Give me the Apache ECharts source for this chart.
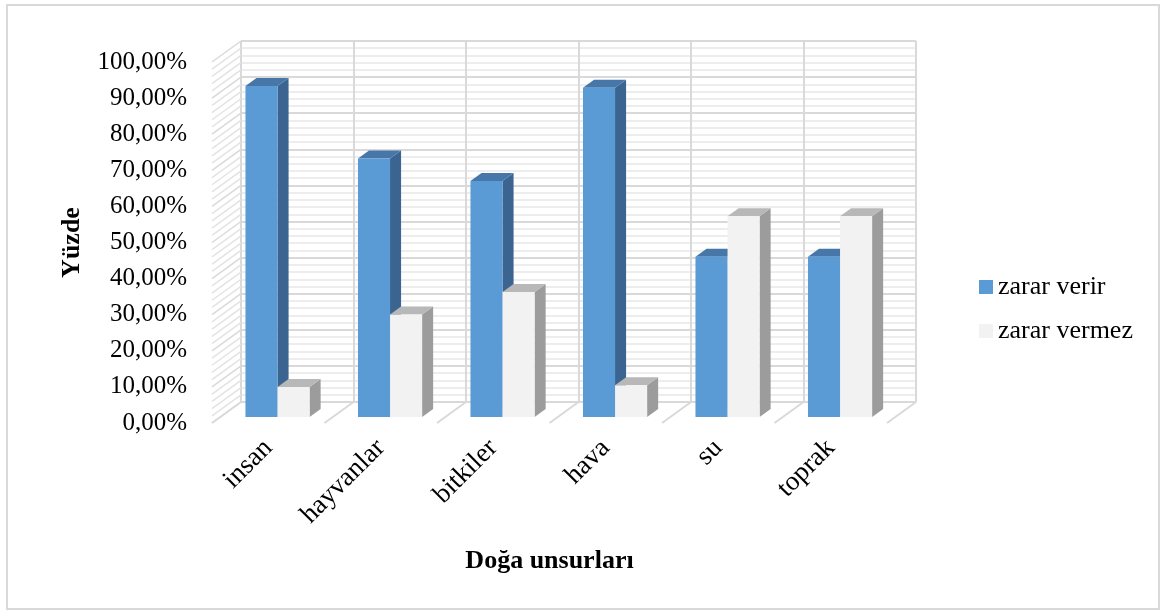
<!DOCTYPE html>
<html><head><meta charset="utf-8">
<script src="https://cdn.jsdelivr.net/npm/echarts@6/dist/echarts.min.js"></script>
<style>html,body{margin:0;padding:0;background:#fff}#c{width:1161px;height:610px}</style>
</head><body><div id="c"></div><script>
// ---- data ----
const categories = ['insan', 'hayvanlar', 'bitkiler', 'hava', 'su', 'toprak'];
const zararVerir = [91.7, 71.6, 65.4, 91.2, 44.4, 44.4];
const zararVermez = [8.3, 28.4, 34.6, 8.8, 55.6, 55.6];
const seriesNames = ['zarar verir', 'zarar vermez'];
const yTickLabels = ['0,00%', '10,00%', '20,00%', '30,00%', '40,00%', '50,00%', '60,00%', '70,00%', '80,00%', '90,00%', '100,00%'];
const yMin = 0, yMax = 100, yInterval = 10;

// ---- 3D style constants ----
const DX = -29, DY = 21;          // back -> front offset of the floor
const F_FRONT = 15 / 21, F_BACK = 7 / 21;
const FONT = 'Liberation Serif';

function barRenderer(colors, leftSide) {
  return function (params, api) {
    const cat = api.value(0), val = api.value(1);
    const band = api.size([1, 0])[0];
    const w = band * 0.285;
    const c0 = api.coord([cat, yMin]);
    const c1 = api.coord([cat, val]);
    const xl = c0[0] + (leftSide ? -w : 0) + DX * F_FRONT + 1;
    const xr = xl + w;
    const yb = c0[1] + DY * F_FRONT, yt = c1[1] + DY * F_FRONT;
    const ddx = DX * (F_BACK - F_FRONT), ddy = DY * (F_BACK - F_FRONT);
    return {
      type: 'group',
      children: [
        { type: 'polygon', shape: { points: [[xr, yt], [xr + ddx, yt + ddy], [xr + ddx, yb + ddy], [xr, yb]] }, style: { fill: colors[2] } },
        { type: 'polygon', shape: { points: [[xl, yt], [xl + ddx, yt + ddy], [xr + ddx, yt + ddy], [xr, yt]] }, style: { fill: colors[1] } },
        { type: 'rect', shape: { x: xl, y: yt, width: w, height: yb - yt }, style: { fill: colors[0] } }
      ]
    };
  };
}

function wallRenderer(params, api) {
  const children = [];
  const band = api.size([1, 0])[0];
  // left wall hatching
  for (let v = yMin; v <= yMax + 0.001; v += yInterval / 5) {
    const p = api.coord([0, v]);
    const x = p[0] - band / 2;
    children.push({ type: 'line', shape: { x1: x, y1: p[1], x2: x + DX, y2: p[1] + DY },
      style: { stroke: (Math.round(v) % yInterval === 0) ? '#d9d9d9' : '#e3e3e3', lineWidth: 1.5 } });
  }
  // floor lines
  for (let k = 0; k <= categories.length; k++) {
    const p = api.coord([k, yMin]);
    const x = p[0] - band / 2;
    children.push({ type: 'line', shape: { x1: x, y1: p[1], x2: x + DX, y2: p[1] + DY },
      style: { stroke: '#d9d9d9', lineWidth: 2 } });
  }
  return { type: 'group', children };
}

const chart = echarts.init(document.getElementById('c'), null, { renderer: 'canvas' });
chart.setOption({
  backgroundColor: '#ffffff',
  animation: false,
  graphic: [{ type: 'rect', shape: { x: 7, y: 5, width: 1152, height: 604 }, style: { fill: 'none', stroke: '#d9d9d9', lineWidth: 2 }, silent: true }],
  legend: {
    orient: 'vertical', left: 974, top: 269, itemWidth: 14, itemHeight: 14, itemGap: 18,
    icon: 'rect', data: seriesNames,
    textStyle: { fontFamily: FONT, fontSize: 26, color: '#000' }
  },
  grid: [
    { left: 241, right: 245, top: 41, bottom: 208, containLabel: false },
    { left: 212, right: 274, top: 62, bottom: 187, containLabel: false }
  ],
  xAxis: [
    { type: 'category', gridIndex: 0, data: categories, axisLine: { show: false }, axisTick: { show: false }, axisLabel: { show: false },
      splitLine: { show: true, lineStyle: { color: '#d9d9d9', width: 2 } } },
    { type: 'category', gridIndex: 1, data: categories, axisLine: { show: false }, axisTick: { show: false },
      axisLabel: { rotate: 45, margin: 21, fontFamily: FONT, fontSize: 27, color: '#000', interval: 0 },
      name: 'Doğa unsurları', nameLocation: 'middle', nameGap: 125,
      nameTextStyle: { fontFamily: FONT, fontSize: 26, fontWeight: 'bold', color: '#000' } }
  ],
  yAxis: [
    { type: 'value', gridIndex: 0, min: yMin, max: yMax, interval: yInterval, axisLine: { show: false }, axisTick: { show: false }, axisLabel: { show: false },
      splitLine: { show: true, lineStyle: { color: '#d9d9d9', width: 2 } },
      minorTick: { show: false, splitNumber: 5 },
      minorSplitLine: { show: true, lineStyle: { color: '#e8e8e8', width: 1.5 } } },
    { type: 'value', gridIndex: 1, min: yMin, max: yMax, interval: yInterval, axisLine: { show: false }, axisTick: { show: false },
      splitLine: { show: false },
      axisLabel: { margin: 25, fontFamily: FONT, fontSize: 25, color: '#000', formatter: (v) => yTickLabels[Math.round((v - yMin) / yInterval)] },
      name: 'Yüzde', nameLocation: 'middle', nameRotate: 90, nameGap: 127,
      nameTextStyle: { fontFamily: FONT, fontSize: 26, fontWeight: 'bold', color: '#000' } }
  ],
  series: [
    { type: 'custom', name: 'walls', xAxisIndex: 0, yAxisIndex: 0, clip: false, silent: true, z: 1,
      data: [[0, 0]], renderItem: wallRenderer },
    { type: 'custom', name: seriesNames[0], xAxisIndex: 0, yAxisIndex: 0, clip: false, z: 2,
      itemStyle: { color: '#5b9bd5' },
      data: zararVerir.map((v, i) => [i, v]),
      renderItem: barRenderer(['#5b9bd5', '#4677a8', '#3b6590'], true) },
    { type: 'custom', name: seriesNames[1], xAxisIndex: 0, yAxisIndex: 0, clip: false, z: 3,
      itemStyle: { color: '#f2f2f2' },
      data: zararVermez.map((v, i) => [i, v]),
      renderItem: barRenderer(['#f2f2f2', '#b8b8b8', '#9c9c9c'], false) }
  ]
});
</script></body></html>
